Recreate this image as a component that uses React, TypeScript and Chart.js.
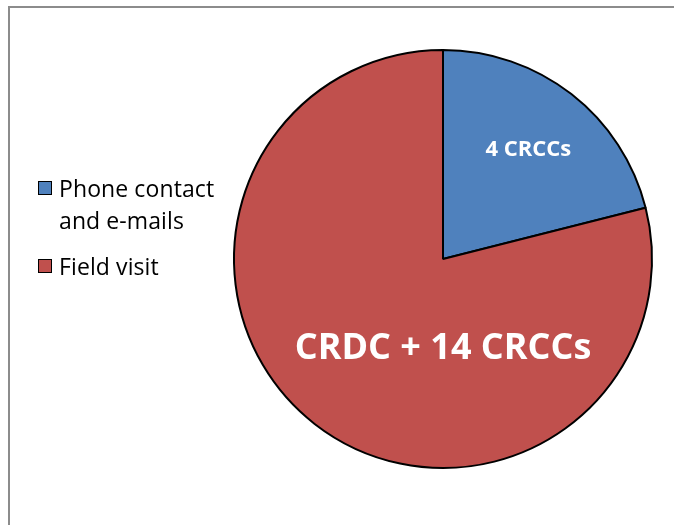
import React, { useEffect, useRef } from "react";
import { Chart, registerables } from "chart.js";

Chart.register(...registerables);

const categories = ["Phone contact and e-mails", "Field visit"];
const legendLines = [["Phone contact", "and e-mails"], ["Field visit"]];
const values = [4, 15];
const sliceLabels = ["4 CRCCs", "CRDC + 14 CRCCs"];
const colors = ["#4F81BD", "#C0504D"];

const labelPlugin = {
  id: "sliceLabels",
  afterDatasetsDraw(chart: any) {
    const ctx = chart.ctx;
    const meta = chart.getDatasetMeta(0);
    ctx.save();
    ctx.fillStyle = "#ffffff";
    ctx.textAlign = "center";
    ctx.textBaseline = "middle";
    meta.data.forEach((arc: any, i: number) => {
      const { x, y, startAngle, endAngle, outerRadius } = arc.getProps(
        ["x", "y", "startAngle", "endAngle", "outerRadius"],
        true
      );
      let px, py;
      if (i === 0) {
        const mid = (startAngle + endAngle) / 2;
        px = x + Math.cos(mid) * outerRadius * 0.665;
        py = y + Math.sin(mid) * outerRadius * 0.665;
        ctx.font = "bold 22px 'Open Sans'";
      } else {
        px = x;
        py = y + outerRadius * 0.43;
        ctx.font = "bold 36px 'Open Sans'";
      }
      ctx.fillText(sliceLabels[i], px, py);
    });
    ctx.restore();
  },
};

export default function App() {
  const ref = useRef<HTMLCanvasElement>(null);
  useEffect(() => {
    if (!ref.current) return;
    const chart = new Chart(ref.current, {
      type: "pie",
      data: {
        labels: categories,
        datasets: [
          {
            data: values,
            backgroundColor: colors,
            borderColor: "#000000",
            borderWidth: 2,
            borderAlign: "center",
          },
        ],
      },
      options: {
        responsive: false,
        animation: false,
        layout: { padding: { left: 233, right: 21, top: 49, bottom: 56 } },
        plugins: {
          legend: { display: false },
          tooltip: { enabled: false },
        },
      },
      plugins: [labelPlugin],
    } as any);
    return () => chart.destroy();
  }, []);

  return (
    <div
      style={{
        position: "absolute",
        left: 0,
        top: 0,
        width: 674,
        height: 525,
        overflow: "hidden",
        background: "#ffffff",
        fontFamily: "'Open Sans', sans-serif",
      }}
    >
      <div
        style={{
          position: "absolute",
          left: 8,
          top: 6,
          width: 800,
          height: 800,
          borderTop: "2px solid #8c8c8c",
          borderLeft: "2px solid #8c8c8c",
          boxSizing: "border-box",
        }}
      />
      <canvas
        ref={ref}
        width={674}
        height={525}
        style={{ position: "absolute", left: 0, top: 0 }}
      />
      {legendLines.map((lines, i) => (
        <div
          key={i}
          style={{
            position: "absolute",
            left: 38,
            top: i === 0 ? 172 : 250,
            display: "flex",
            alignItems: "flex-start",
          }}
        >
          <div
            style={{
              width: 12,
              height: 12,
              marginTop: 9,
              background: colors[i],
              border: "1.5px solid #000",
              flex: "none",
            }}
          />
          <div
            style={{
              marginLeft: 7,
              fontSize: 23,
              lineHeight: "32px",
              color: "#000",
              whiteSpace: "nowrap",
              letterSpacing: "0.1px",
            }}
          >
            {lines.map((l, j) => (
              <div key={j}>{l}</div>
            ))}
          </div>
        </div>
      ))}
    </div>
  );
}
